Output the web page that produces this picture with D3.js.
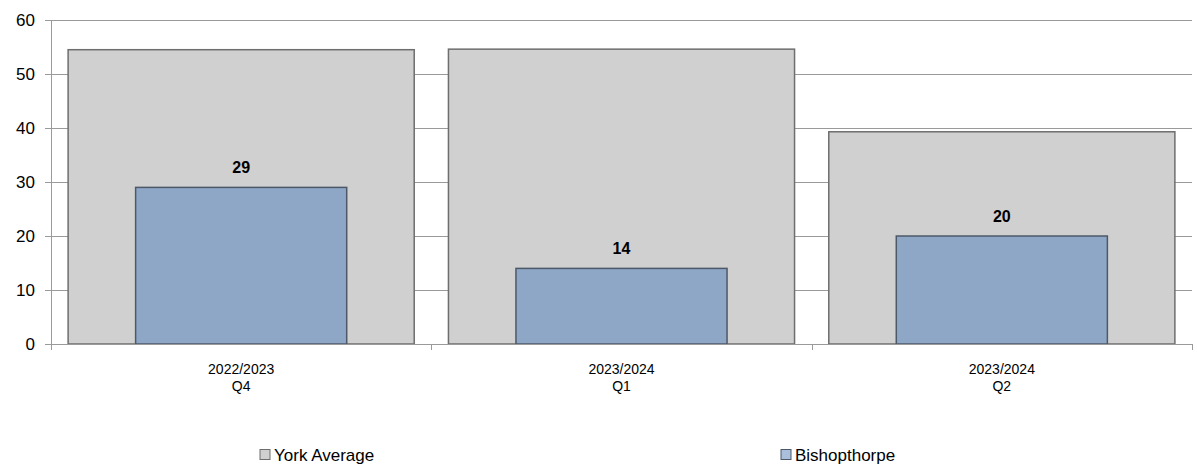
<!DOCTYPE html>
<html>
<head>
<meta charset="utf-8">
<script src="https://cdn.jsdelivr.net/npm/d3@7"></script>
<style>
  body { margin: 0; background: #fff; }
  svg { font-family: "Liberation Sans", Arial, sans-serif; }
</style>
</head>
<body>
<svg id="chart"></svg>
<script>
const categories = [["2022/2023", "Q4"], ["2023/2024", "Q1"], ["2023/2024", "Q2"]];
const yorkAverage = [54.5, 54.6, 39.3];
const bishopthorpe = [29, 14, 20];
const yTicks = [0, 10, 20, 30, 40, 50, 60];
const seriesNames = ["York Average", "Bishopthorpe"];

const width = 1197, height = 468;
const margin = { top: 20, right: 5, bottom: 124, left: 51 };
const innerW = width - margin.left - margin.right;
const innerH = height - margin.top - margin.bottom;

const svg = d3.select("#chart").attr("width", width).attr("height", height);
const g = svg.append("g").attr("transform", `translate(${margin.left},${margin.top})`);

const keys = categories.map((d) => d.join(" "));
const x = d3.scaleBand().domain(keys).range([0, innerW]);
const y = d3.scaleLinear().domain([0, 60]).range([innerH, 0]);

// gridlines
g.selectAll("line.grid")
  .data(yTicks)
  .join("line")
  .attr("class", "grid")
  .attr("x1", 0)
  .attr("x2", innerW)
  .attr("y1", (d) => y(d) + 0.5)
  .attr("y2", (d) => y(d) + 0.5)
  .attr("stroke", "#9a9a9a")
  .attr("stroke-width", 1);

// york average bars (wide)
const wideW = x.bandwidth() * 0.91;
g.selectAll("rect.york")
  .data(yorkAverage)
  .join("rect")
  .attr("class", "york")
  .attr("x", (d, i) => x(keys[i]) + (x.bandwidth() - wideW) / 2)
  .attr("y", (d) => y(d))
  .attr("width", wideW)
  .attr("height", (d) => innerH - y(d))
  .attr("fill", "#d0d0d0")
  .attr("stroke", "#6e6e6e")
  .attr("stroke-width", 1.5);

// bishopthorpe bars (narrow)
const narrowW = x.bandwidth() * 0.555;
g.selectAll("rect.bish")
  .data(bishopthorpe)
  .join("rect")
  .attr("class", "bish")
  .attr("x", (d, i) => x(keys[i]) + (x.bandwidth() - narrowW) / 2)
  .attr("y", (d) => y(d))
  .attr("width", narrowW)
  .attr("height", (d) => innerH - y(d))
  .attr("fill", "#8ea7c7")
  .attr("stroke", "#4d5868")
  .attr("stroke-width", 1.5);

// data labels
g.selectAll("text.lbl")
  .data(bishopthorpe)
  .join("text")
  .attr("class", "lbl")
  .attr("x", (d, i) => x(keys[i]) + x.bandwidth() / 2)
  .attr("y", (d) => y(d) - 14)
  .attr("text-anchor", "middle")
  .attr("font-size", 16)
  .attr("font-weight", "bold")
  .attr("fill", "#000")
  .text((d) => d);

// y axis
const yAxis = g.append("g")
  .call(d3.axisLeft(y).tickValues(yTicks).tickSize(6).tickPadding(10).tickFormat(d3.format("d")));
yAxis.select(".domain").attr("stroke", "#9a9a9a").attr("d", `M0.5,0V${innerH + 6}`);
yAxis.selectAll(".tick line").attr("stroke", "#9a9a9a");
yAxis.selectAll("text").attr("font-size", 17).attr("fill", "#000").attr("font-family", "Liberation Sans, Arial, sans-serif");

// x axis
const boundaries = [0, innerW / 3, (2 * innerW) / 3, innerW];
const xAxis = g.append("g").attr("transform", `translate(0,${innerH})`);
xAxis.append("line")
  .attr("x1", 0).attr("x2", innerW)
  .attr("y1", 0.5).attr("y2", 0.5)
  .attr("stroke", "#9a9a9a");
xAxis.selectAll("line.tk")
  .data(boundaries)
  .join("line")
  .attr("class", "tk")
  .attr("x1", (d) => Math.round(d) + 0.5)
  .attr("x2", (d) => Math.round(d) + 0.5)
  .attr("y1", 0)
  .attr("y2", 6)
  .attr("stroke", "#9a9a9a");
const xl = xAxis.selectAll("text.xl")
  .data(categories)
  .join("text")
  .attr("class", "xl")
  .attr("text-anchor", "middle")
  .attr("font-size", 14)
  .attr("fill", "#000");
xl.append("tspan")
  .attr("x", (d, i) => x(keys[i]) + x.bandwidth() / 2)
  .attr("y", 30)
  .text((d) => d[0]);
xl.append("tspan")
  .attr("x", (d, i) => x(keys[i]) + x.bandwidth() / 2)
  .attr("y", 47)
  .text((d) => d[1]);

// legend
const legendX = [260, 781];
const legendFill = ["#d0d0d0", "#a9bfdc"];
const legendStroke = ["#6e6e6e", "#4d5868"];
const legend = svg.append("g");
seriesNames.forEach((name, i) => {
  legend.append("rect")
    .attr("x", legendX[i])
    .attr("y", 449.5)
    .attr("width", 10)
    .attr("height", 10)
    .attr("fill", legendFill[i])
    .attr("stroke", legendStroke[i]);
  legend.append("text")
    .attr("x", legendX[i] + 14)
    .attr("y", 461)
    .attr("font-size", 17)
    .attr("fill", "#000")
    .text(name);
});
</script>
</body>
</html>
